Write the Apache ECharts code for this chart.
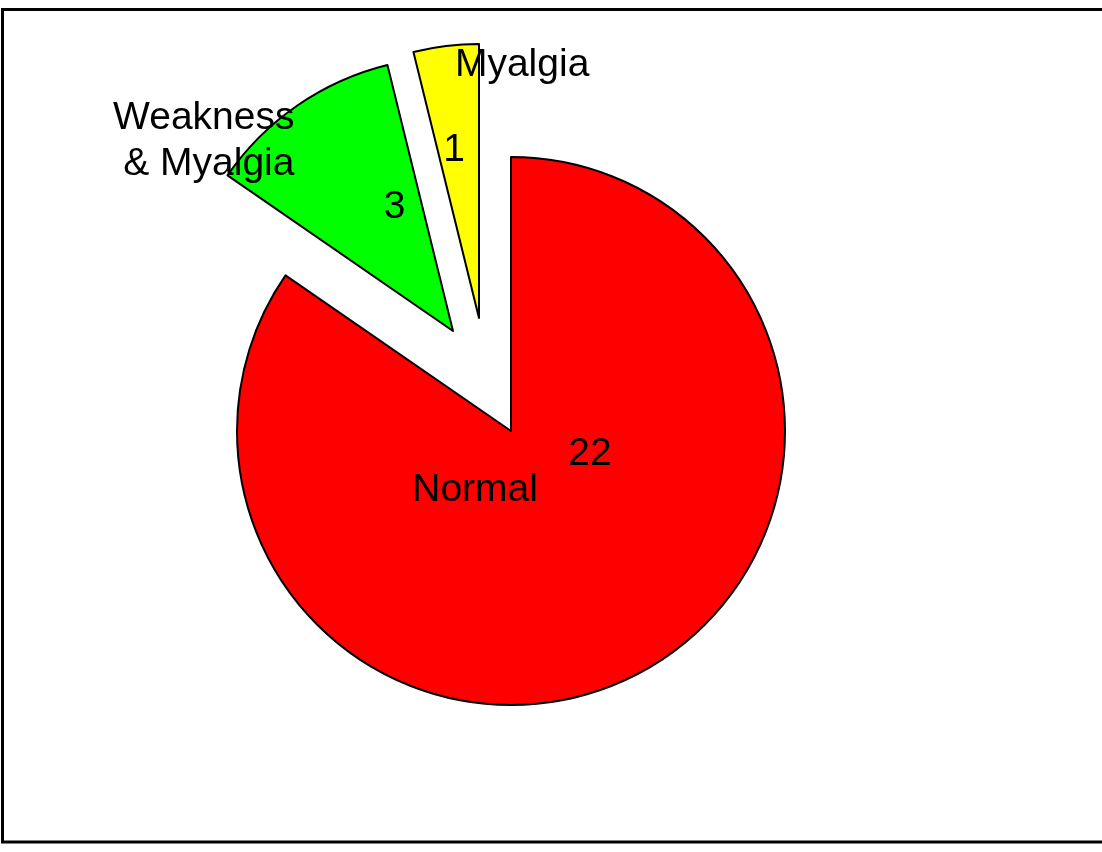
<!DOCTYPE html>
<html>
<head>
<meta charset="utf-8">
<script src="https://cdn.jsdelivr.net/npm/echarts@6/dist/echarts.min.js"></script>
<style>
html,body{margin:0;padding:0;background:#fff;}
#chart{width:1102px;height:852px;}
</style>
</head>
<body>
<div id="chart"></div>
<script>
const categories = ['Normal', 'Weakness\n& Myalgia', 'Myalgia'];
const values = [22, 3, 1];
const colors = ['#ff0000', '#00ff00', '#ffff00'];

const centers = [[511, 431], [453, 331], [479, 318]];
const valueShift = [[14, -101], [21, -9], [-8, -29]];
const nameShift = [[-101, -65], [-137, -175], [28, -227]];
const nameAlign = ['center', 'right', 'center'];

const FONT = '"Liberation Sans", Arial, Helvetica, sans-serif';
const chart = echarts.init(document.getElementById('chart'));

const series = [];
// one drawing series per slice (each slice exploded to its own place)
for (let k = 0; k < values.length; k++) {
  series.push({
    type: 'pie',
    center: centers[k],
    radius: [0, 274],
    startAngle: 90,
    clockwise: true,
    avoidLabelOverlap: false,
    silent: true,
    z: 2,
    label: {
      show: true, position: 'inside', formatter: '{c}',
      color: '#000', fontSize: 39, fontFamily: FONT
    },
    labelLine: {show: false},
    labelLayout: function (p) {
      return {dx: valueShift[p.dataIndex][0], dy: valueShift[p.dataIndex][1]};
    },
    data: values.map(function (v, i) {
      return {
        name: categories[i], value: v,
        itemStyle: i === k
          ? {color: colors[i], borderColor: '#000', borderWidth: 2}
          : {color: 'rgba(0,0,0,0)', borderWidth: 0},
        label: {show: i === k}
      };
    })
  });
}
// name labels
series.push({
  type: 'pie',
  center: centers[0],
  radius: [0, 274],
  startAngle: 90,
  clockwise: true,
  avoidLabelOverlap: false,
  silent: true,
  z: 5,
  itemStyle: {color: 'rgba(0,0,0,0)', borderWidth: 0},
  label: {
    show: true, position: 'inside', formatter: '{b}',
    color: '#000', fontSize: 39, fontFamily: FONT, lineHeight: 46
  },
  labelLine: {show: false},
  labelLayout: function (p) {
    return {
      dx: nameShift[p.dataIndex][0], dy: nameShift[p.dataIndex][1],
      align: nameAlign[p.dataIndex]
    };
  },
  data: values.map(function (v, i) { return {name: categories[i], value: v}; })
});

chart.setOption({
  animation: false,
  backgroundColor: '#ffffff',
  graphic: [{
    type: 'rect',
    shape: {x: 2.5, y: 9.5, width: 1200, height: 832.5},
    style: {fill: 'none', stroke: '#000', lineWidth: 3},
    silent: true
  }],
  series: series
});
</script>
</body>
</html>
